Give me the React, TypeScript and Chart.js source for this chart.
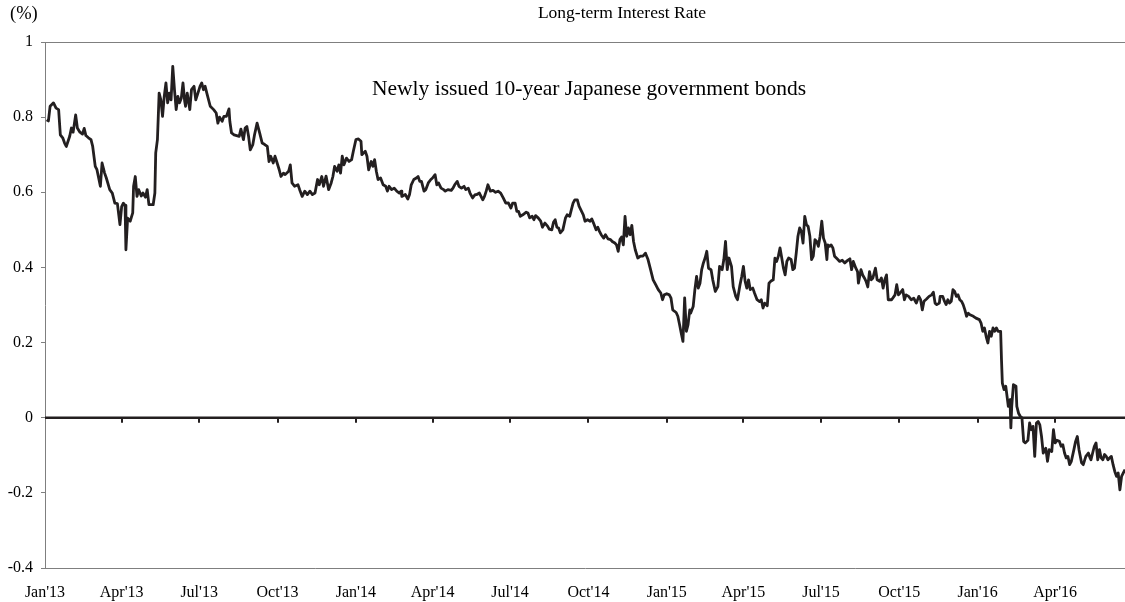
import React, { useEffect, useRef } from "react";
import { Chart, registerables } from "chart.js";

Chart.register(...registerables);

const FONT = "'Liberation Serif', 'Times New Roman', serif";

// Quarter tick positions (calendar days since 1 Jan 2013) and labels
const quarterDays = [0, 90, 181, 273, 365, 455, 546, 638, 730, 820, 911, 1003, 1095, 1186];
const quarterLabels = [
  "Jan'13", "Apr'13", "Jul'13", "Oct'13", "Jan'14", "Apr'14", "Jul'14",
  "Oct'14", "Jan'15", "Apr'15", "Jul'15", "Oct'15", "Jan'16", "Apr'16",
];

const yTicks = [-0.4, -0.2, 0, 0.2, 0.4, 0.6, 0.8, 1];
const yTickLabels = ["-0.4", "-0.2", "0", "0.2", "0.4", "0.6", "0.8", "1"];

const xMinDay = 0;
const xMaxDay = 1268;

// Observation dates (calendar days since 1 Jan 2013)
const days = [
  2, 4, 6, 10, 13, 16, 18, 21, 23, 25, 29, 31, 33, 36, 38, 41, 44, 46, 48, 51, 54, 56, 59, 61, 65, 67, 70, 72, 76, 79,
  82, 85, 88, 90, 92, 94, 95, 97, 100, 103, 104, 106, 108, 110, 113, 115, 118, 120, 122, 127, 129, 130, 132, 134, 136,
  138, 140, 142, 144, 146, 148, 150, 152, 154, 156, 158, 160, 162, 164, 165, 167, 170, 172, 175, 177, 179, 182, 184,
  186, 188, 190, 194, 198, 201, 203, 205, 208, 210, 213, 216, 217, 219, 222, 225, 228, 230, 233, 235, 237, 239, 241,
  244, 246, 249,
  252, 255, 258, 261, 263, 265, 268, 270, 272, 275, 277, 280, 282, 286, 288, 290, 293, 297, 299, 302, 305, 308, 311,
  314, 317, 320, 322, 325, 327, 330, 333, 336, 338, 340, 343, 345, 347, 349, 351, 354, 357, 360, 362, 365, 368, 371,
  372, 376, 378, 380, 383, 385, 387, 389, 391, 394, 397, 400, 402, 404, 407, 410, 413, 416, 418, 419, 423, 426, 428,
  430, 433, 436, 438, 440, 442, 445, 447, 450, 453, 455, 458, 460, 462, 465, 468, 470, 473, 477, 479, 481, 484, 486,
  489, 492, 494, 497, 499, 502, 505,
  507, 510, 514, 516, 518, 520, 523, 526, 529, 532, 535, 538, 541, 544, 547, 549, 552, 554, 556, 558, 561, 565, 567,
  569, 572, 574, 576, 579, 582, 584, 587, 590, 592, 595, 597, 599, 601, 603, 605, 608, 611, 613, 616, 618, 620, 622,
  625, 627, 630, 632, 634, 637, 640, 642, 644, 647, 649, 651, 653, 656, 658, 661, 664, 666, 669, 671, 673, 675, 677,
  679, 681, 683, 685, 687, 689, 691, 693, 696, 699, 702, 705, 708, 711, 714, 717, 720, 723, 725, 727, 730, 733, 735,
  737, 741, 743, 745, 747, 749, 751, 753, 755, 757,
  758, 761, 763, 765, 767, 769, 771, 773, 775, 777, 779, 782, 784, 787, 790, 792, 795, 797, 799, 801, 803, 806, 808,
  811, 813, 816, 818, 820, 822, 824, 826, 828, 831, 833, 836, 839, 841, 843, 845, 848, 850, 852, 855, 857, 859, 861,
  863, 865, 867, 869, 871, 873, 876, 878, 880, 882, 884, 886, 888, 890, 892, 894, 896, 898, 900, 902, 904, 906, 908,
  910, 912, 914, 916, 918, 919, 921, 923, 925, 927, 930, 933, 936, 939, 942, 945, 947, 949, 952, 954, 955, 958, 960,
  962, 964, 966, 968, 970, 972, 975, 977, 980, 982, 984, 986, 988, 990, 994, 998, 1000, 1002,
  1004, 1007, 1009, 1011, 1014, 1017, 1020, 1023, 1026, 1028, 1030, 1032, 1035, 1038, 1041, 1043, 1045, 1047, 1050,
  1051, 1054, 1056, 1058, 1060, 1062, 1064, 1066, 1068, 1070, 1072, 1074, 1076, 1078, 1080, 1082, 1084, 1086, 1090,
  1093, 1097, 1099, 1101, 1103, 1105, 1107, 1109, 1111, 1113, 1115, 1117, 1119, 1122, 1123, 1124, 1126, 1128, 1130,
  1131, 1133, 1134, 1135, 1137, 1140, 1141, 1143, 1145, 1147, 1149, 1151, 1154, 1156, 1158, 1160, 1162, 1164, 1166,
  1168, 1170, 1172, 1175, 1177, 1179, 1182, 1184, 1186, 1188, 1191, 1193, 1195, 1197, 1199, 1201, 1203, 1205, 1208,
  1210, 1212, 1214, 1217, 1219, 1222, 1225, 1227, 1228, 1230, 1232, 1234, 1236, 1238, 1240, 1242, 1244, 1246, 1248,
  1250, 1252, 1254, 1256, 1258, 1260, 1262, 1264, 1266, 1268,
];

// Newly issued 10-year JGB yield (%)
const rates = [
  0.793, 0.79, 0.829, 0.838, 0.824, 0.82, 0.753, 0.744, 0.731, 0.722, 0.749, 0.771, 0.76, 0.806, 0.771, 0.76, 0.755,
  0.77, 0.751, 0.745, 0.74, 0.722, 0.669, 0.66, 0.616, 0.678, 0.651, 0.638, 0.607, 0.598, 0.571, 0.57, 0.514, 0.562,
  0.571, 0.565, 0.447, 0.531, 0.523, 0.545, 0.616, 0.642, 0.589, 0.607, 0.59, 0.598, 0.587, 0.607, 0.567, 0.567, 0.598,
  0.705, 0.74, 0.864, 0.846, 0.802, 0.855, 0.891, 0.838, 0.864, 0.846, 0.935, 0.873, 0.82, 0.855, 0.838, 0.85, 0.891,
  0.842, 0.829, 0.864, 0.82, 0.873, 0.882, 0.846, 0.86, 0.882, 0.891, 0.873, 0.882, 0.864, 0.829, 0.82, 0.811, 0.784,
  0.8, 0.789, 0.802, 0.802, 0.822, 0.789, 0.758, 0.753, 0.751, 0.749, 0.768, 0.74, 0.771, 0.775, 0.749, 0.713, 0.727,
  0.753, 0.784,
  0.758, 0.731, 0.727, 0.722, 0.682, 0.696, 0.678, 0.696, 0.682, 0.66, 0.642, 0.651, 0.647, 0.656, 0.673, 0.625, 0.616,
  0.62, 0.607, 0.589, 0.603, 0.594, 0.603, 0.594, 0.598, 0.634, 0.62, 0.642, 0.616, 0.643, 0.607, 0.625, 0.642, 0.669,
  0.656, 0.673, 0.651, 0.696, 0.673, 0.691, 0.682, 0.687, 0.709, 0.74, 0.742, 0.736, 0.7, 0.709, 0.696, 0.66, 0.682,
  0.669, 0.687, 0.656, 0.634, 0.638, 0.62, 0.616, 0.603, 0.616, 0.607, 0.611, 0.603, 0.598, 0.603, 0.589, 0.594, 0.582,
  0.594, 0.62, 0.634, 0.638, 0.642, 0.629, 0.629, 0.603, 0.607, 0.625, 0.634, 0.638, 0.647, 0.62, 0.625, 0.611, 0.607,
  0.603, 0.607, 0.605, 0.611, 0.62, 0.629, 0.616, 0.611, 0.616, 0.607, 0.611, 0.598, 0.585, 0.594,
  0.594, 0.598, 0.58, 0.589, 0.603, 0.62, 0.603, 0.605, 0.6, 0.603, 0.598, 0.585, 0.571, 0.572, 0.558, 0.571, 0.571,
  0.549, 0.549, 0.536, 0.54, 0.547, 0.545, 0.532, 0.536, 0.527, 0.538, 0.532, 0.523, 0.507, 0.518, 0.51, 0.502, 0.5,
  0.52, 0.527, 0.507, 0.505, 0.492, 0.5, 0.531, 0.54, 0.536, 0.554, 0.571, 0.58, 0.58, 0.563, 0.549, 0.54, 0.523,
  0.527, 0.523, 0.529, 0.518, 0.5, 0.507, 0.496, 0.487, 0.478, 0.487, 0.476, 0.474, 0.469, 0.465, 0.46, 0.443, 0.474,
  0.481, 0.46, 0.536, 0.483, 0.505, 0.487, 0.512, 0.469, 0.447, 0.425, 0.43, 0.43, 0.438, 0.421, 0.394, 0.367, 0.354,
  0.341, 0.332, 0.314, 0.327, 0.33, 0.327, 0.318, 0.287, 0.28, 0.27, 0.248, 0.225, 0.203, 0.319, 0.23, 0.248, 0.287,
  0.278, 0.296, 0.341, 0.376, 0.345, 0.358, 0.394, 0.412, 0.425, 0.443, 0.398, 0.394, 0.367, 0.336, 0.349, 0.403,
  0.394, 0.421, 0.469, 0.394, 0.425, 0.403, 0.349, 0.323, 0.314, 0.354, 0.376, 0.403, 0.363, 0.345, 0.367, 0.341,
  0.345, 0.332, 0.314, 0.309, 0.314, 0.292, 0.305, 0.298, 0.358, 0.363, 0.367, 0.425, 0.416, 0.43, 0.452, 0.425,
  0.398, 0.38, 0.416, 0.425, 0.421, 0.394, 0.398, 0.438, 0.483, 0.505, 0.496, 0.465, 0.536, 0.514, 0.509, 0.483,
  0.421, 0.43, 0.474, 0.469, 0.456, 0.483, 0.523, 0.478, 0.465, 0.421, 0.46, 0.456, 0.46, 0.452, 0.43, 0.423, 0.416,
  0.419, 0.412, 0.418, 0.423, 0.394, 0.416, 0.398, 0.389, 0.358, 0.394, 0.38, 0.372, 0.363, 0.348, 0.389, 0.367,
  0.372, 0.398, 0.367, 0.363, 0.372, 0.345, 0.367, 0.38, 0.314, 0.314, 0.327, 0.354, 0.327,
  0.332, 0.341, 0.314, 0.327, 0.323, 0.314, 0.318, 0.305, 0.323, 0.314, 0.287, 0.31, 0.316, 0.323, 0.327, 0.334,
  0.305, 0.301, 0.305, 0.323, 0.323, 0.31, 0.301, 0.314, 0.305, 0.31, 0.341, 0.336, 0.323, 0.327, 0.314, 0.31, 0.301,
  0.287, 0.27, 0.278, 0.274, 0.27, 0.265, 0.261, 0.252, 0.23, 0.239, 0.216, 0.199, 0.23, 0.217, 0.239, 0.23, 0.239,
  0.23, 0.23, 0.154, 0.092, 0.075, 0.084, 0.048, 0.03, 0.048, -0.027, 0.03, 0.088, 0.084, 0.03, 0.012, 0.004, 0,
  -0.063, -0.067, -0.06, -0.014, -0.032, -0.023, -0.103, -0.014, -0.01, -0.019, -0.05, -0.094, -0.081, -0.116,
  -0.085, -0.09, -0.032, -0.067, -0.06, -0.063, -0.076, -0.072, -0.094, -0.107, -0.103, -0.125, -0.116, -0.085,
  -0.063, -0.05, -0.085, -0.12, -0.125, -0.103, -0.094, -0.107, -0.112, -0.094, -0.076, -0.067, -0.112, -0.085,
  -0.107, -0.112, -0.098, -0.103, -0.112, -0.107, -0.103, -0.125, -0.143, -0.156, -0.147, -0.192, -0.156, -0.147,
  -0.138,
];

const LINE_COLOR = "#231f20";
const FRAME_COLOR = "#7f7f7f";

const zeroLinePlugin = {
  id: "zeroLineAndFrame",
  afterDatasetsDraw(chart: any) {
    const { ctx, chartArea, scales } = chart;
    const x = scales.x;
    const y = scales.y;
    const y0 = y.getPixelForValue(0);
    ctx.save();
    // top frame line
    ctx.strokeStyle = FRAME_COLOR;
    ctx.lineWidth = 1;
    ctx.beginPath();
    ctx.moveTo(chartArea.left, chartArea.top + 0.5);
    ctx.lineTo(chartArea.right, chartArea.top + 0.5);
    ctx.stroke();
    // zero axis line with quarter tick marks
    ctx.strokeStyle = LINE_COLOR;
    ctx.lineWidth = 2.5;
    ctx.beginPath();
    ctx.moveTo(chartArea.left, y0);
    ctx.lineTo(chartArea.right, y0);
    ctx.stroke();
    ctx.lineWidth = 2;
    quarterDays.forEach((d) => {
      if (d === xMinDay) return;
      const px = Math.round(x.getPixelForValue(d));
      ctx.beginPath();
      ctx.moveTo(px, y0);
      ctx.lineTo(px, y0 + 5);
      ctx.stroke();
    });
    ctx.restore();
  },
};

export default function App() {
  const canvasRef = useRef<HTMLCanvasElement | null>(null);

  useEffect(() => {
    const canvas = canvasRef.current;
    if (!canvas) return;
    const points = days.map((d, i) => ({ x: d, y: rates[i] }));
    const chart = new Chart(canvas, {
      type: "line",
      data: {
        datasets: [
          {
            label: "Newly issued 10-year Japanese government bonds",
            data: points,
            borderColor: LINE_COLOR,
            borderWidth: 2.8,
            pointRadius: 0,
            tension: 0,
            fill: false,
            borderJoinStyle: "round",
          },
        ],
      },
      options: {
        responsive: false,
        animation: false,
        events: [],
        layout: { padding: { top: 42, right: 0, left: 0, bottom: 0 } },
        plugins: {
          legend: { display: false },
          title: { display: false },
          tooltip: { enabled: false },
        },
        scales: {
          x: {
            type: "linear",
            min: xMinDay,
            max: xMaxDay,
            afterBuildTicks: (scale: any) => {
              scale.ticks = quarterDays.map((v) => ({ value: v }));
            },
            afterFit: (scale: any) => {
              scale.height = 34;
            },
            grid: { display: true, drawOnChartArea: false, drawTicks: false },
            border: { display: true, color: FRAME_COLOR, width: 1 },
            ticks: {
              autoSkip: false,
              maxRotation: 0,
              minRotation: 0,
              padding: 15,
              color: "#000",
              font: { family: FONT, size: 16 },
              callback: (value: any) => {
                const i = quarterDays.indexOf(Number(value));
                return i >= 0 ? quarterLabels[i] : "";
              },
            },
          },
          y: {
            type: "linear",
            min: -0.4,
            max: 1,
            afterBuildTicks: (scale: any) => {
              scale.ticks = yTicks.map((v) => ({ value: v }));
            },
            afterFit: (scale: any) => {
              scale.width = 45;
            },
            grid: { display: true, drawOnChartArea: false, drawTicks: true, tickLength: 4, color: FRAME_COLOR },
            border: { display: true, color: FRAME_COLOR, width: 1 },
            ticks: {
              padding: 8,
              color: "#000",
              font: { family: FONT, size: 16 },
              callback: (value: any) => {
                const i = yTicks.findIndex((t) => Math.abs(t - Number(value)) < 1e-9);
                return i >= 0 ? yTickLabels[i] : "";
              },
            },
          },
        },
      },
      plugins: [zeroLinePlugin],
    });
    return () => chart.destroy();
  }, []);

  const textBase: React.CSSProperties = {
    position: "absolute",
    fontFamily: FONT,
    color: "#000",
    whiteSpace: "nowrap",
    lineHeight: 1,
  };

  return (
    <div style={{ position: "absolute", left: 0, top: 0, width: 1125, height: 602, background: "#fff" }}>
      <canvas ref={canvasRef} width={1125} height={602} style={{ display: "block" }} />
      <div style={{ ...textBase, left: 10, top: 4, fontSize: 18.5 }}>(%)</div>
      <div style={{ ...textBase, left: 622, top: 4, fontSize: 17.5, transform: "translateX(-50%)" }}>
        Long-term Interest Rate
      </div>
      <div style={{ ...textBase, left: 589, top: 78, fontSize: 21.5, transform: "translateX(-50%)" }}>
        Newly issued 10-year Japanese government bonds
      </div>
    </div>
  );
}
